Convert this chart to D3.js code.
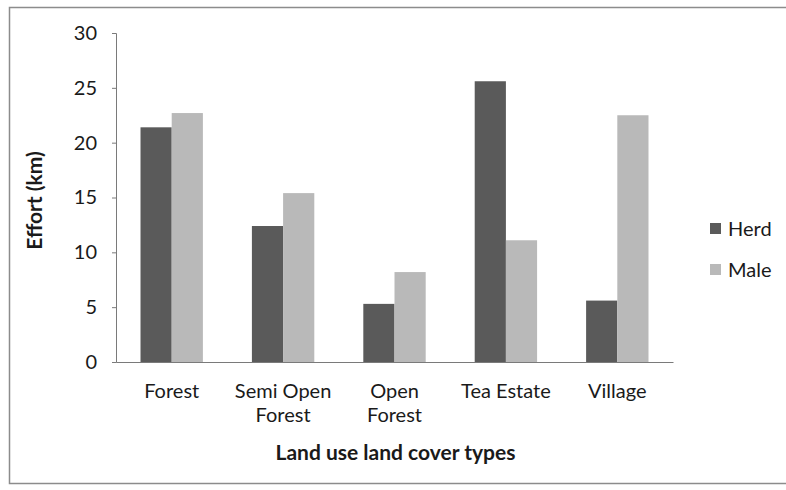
<!DOCTYPE html>
<html>
<head>
<meta charset="utf-8">
<script src="https://cdn.jsdelivr.net/npm/d3@7"></script>
<style>
  html, body { margin: 0; padding: 0; background: #fff; }
  svg text { font-family: Lato, "Open Sans", "Liberation Sans", sans-serif; fill: #1a1a1a; }
</style>
</head>
<body>
<svg id="chart" width="786" height="490"></svg>
<script>
// Land use / land cover categories (label lines)
const categories = [
  ["Forest"],
  ["Semi Open", "Forest"],
  ["Open", "Forest"],
  ["Tea Estate"],
  ["Village"]
];
const seriesNames = ["Herd", "Male"];
const herdValues = [21.4, 12.4, 5.3, 25.6, 5.6];
const maleValues = [22.7, 15.4, 8.2, 11.1, 22.5];
const yTicks = [0, 5, 10, 15, 20, 25, 30];
const colors = ["#5a5a5a", "#b9b9b9"];

const svg = d3.select("#chart");

// frame
svg.append("rect")
  .attr("x", 9.5).attr("y", 7.5).attr("width", 790).attr("height", 476)
  .attr("fill", "#fff").attr("stroke", "#8c8c8c").attr("stroke-width", 1.5);

const plot = { left: 116, right: 673, top: 33, bottom: 362 };

const keys = categories.map((c, i) => i);
const x = d3.scaleBand().domain(keys).range([plot.left, plot.right]).paddingInner(0.44).paddingOuter(0.22);
const xs = d3.scaleBand().domain(seriesNames).range([0, x.bandwidth()]);
const y = d3.scaleLinear().domain([0, 30]).range([plot.bottom, plot.top]);

const rows = keys.map(i => ({ i, Herd: herdValues[i], Male: maleValues[i] }));

const g = svg.append("g");
g.selectAll("g.cat").data(rows).join("g")
  .attr("class", "cat")
  .attr("transform", d => `translate(${x(d.i)},0)`)
  .selectAll("rect").data(d => seriesNames.map((s, k) => ({ s, k, v: d[s] }))).join("rect")
  .attr("x", d => xs(d.s))
  .attr("width", xs.bandwidth())
  .attr("y", d => y(d.v))
  .attr("height", d => y(0) - y(d.v))
  .attr("fill", d => colors[d.k]);

// y axis
const yAxis = d3.axisLeft(y).tickValues(yTicks).tickSize(4).tickPadding(15);
const ya = svg.append("g").attr("transform", `translate(${plot.left},0)`).call(yAxis);
ya.select(".domain").attr("stroke", "#7a7a7a");
ya.selectAll(".tick line").attr("stroke", "#7a7a7a");
ya.selectAll(".tick text").attr("font-size", 20).attr("fill", "#1a1a1a");

// x axis
const xAxis = d3.axisBottom(x).tickSize(0).tickFormat("");
const xa = svg.append("g").attr("transform", `translate(0,${plot.bottom})`).call(xAxis);
xa.select(".domain").attr("stroke", "#7a7a7a");

// category labels
const lab = svg.append("g");
categories.forEach((lines, i) => {
  const t = lab.append("text")
    .attr("x", x(i) + x.bandwidth() / 2)
    .attr("y", 398)
    .attr("text-anchor", "middle")
    .attr("font-size", 20);
  lines.forEach((ln, j) => t.append("tspan").attr("x", x(i) + x.bandwidth() / 2).attr("dy", j ? 24 : 0).text(ln));
});

// axis titles
svg.append("text")
  .attr("x", (plot.left + plot.right) / 2 + 1).attr("y", 460)
  .attr("text-anchor", "middle").attr("font-size", 21).attr("font-weight", "bold")
  .text("Land use land cover types");

svg.append("text")
  .attr("transform", `translate(42,${(plot.top + plot.bottom) / 2 + 3}) rotate(-90)`)
  .attr("text-anchor", "middle").attr("font-size", 21).attr("font-weight", "bold")
  .text("Effort (km)");

// legend
const leg = svg.append("g").attr("transform", "translate(710,223)");
seriesNames.forEach((s, k) => {
  const row = leg.append("g").attr("transform", `translate(0,${k * 41})`);
  row.append("rect").attr("width", 11).attr("height", 11).attr("fill", colors[k]);
  row.append("text").attr("x", 18).attr("y", 13).attr("font-size", 20).text(s);
});
</script>
</body>
</html>
